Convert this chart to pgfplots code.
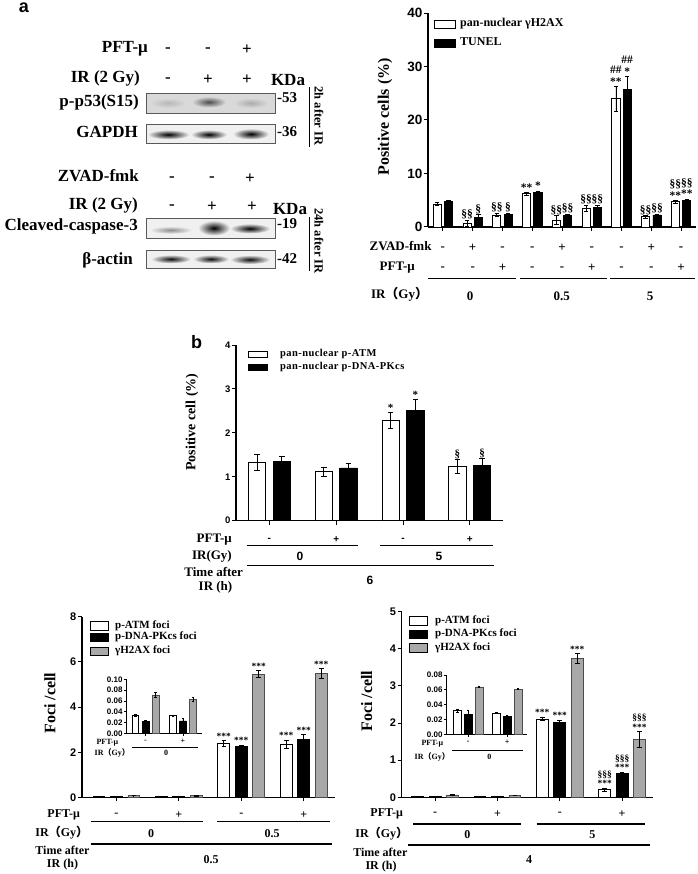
\documentclass[border=0pt]{standalone}
\usepackage{fontspec}
\setmainfont{Liberation Serif}
\newfontfamily\arial{Liberation Sans}
\newfontfamily\cjk{Noto Sans CJK SC}
\usepackage{pgfplots}
\usepackage{pgfplotstable}
\pgfplotsset{compat=1.18}
\newcommand{\sz}[1]{\fontsize{#1}{#1}\selectfont}
\newcommand{\IRGy}{IR{\cjk\bfseries （}Gy{\cjk\bfseries ）}}
\definecolor{gfill}{gray}{0.66}
\definecolor{gline}{gray}{0.3}

\pgfplotstableread{
x w we b be
0 4.3 0.3 4.7 0.3
1 0.7 0.5 1.8 0.5
2 2.25 0.3 2.4 0.2
3 6.2 0.3 6.4 0.3
4 1.3 0.8 2.1 0.3
5 3.5 0.5 3.7 0.3
6 24.0 2.3 25.7 2.4
7 1.9 0.2 2.25 0.15
8 4.7 0.3 4.95 0.3
}\dataA

\pgfplotstableread{
x a ae k ke
0 1.33 0.19 1.34 0.13
1 1.12 0.10 1.20 0.10
2 2.29 0.18 2.50 0.26
3 1.23 0.16 1.26 0.15
}\dataB

\pgfplotstableread{
x a ae k ke g ge
0 0.033 0.002 0.022 0.002 0.071 0.004
1 0.033 0.001 0.023 0.004 0.063 0.003
2 2.39 0.12 2.24 0.07 5.46 0.15
3 2.35 0.18 2.57 0.20 5.49 0.22
}\dataC

\pgfplotstableread{
x a ae k ke g ge
0 0.033 0.002 0.022 0.002 0.071 0.004
1 0.033 0.001 0.023 0.004 0.063 0.003
}\dataCi

\pgfplotstableread{
x a ae k ke g ge
0 0.032 0.002 0.027 0.005 0.064 0.001
1 0.029 0.001 0.024 0.001 0.061 0.001
2 2.11 0.05 2.02 0.06 3.74 0.13
3 0.20 0.05 0.65 0.03 1.56 0.22
}\dataD

\pgfplotstableread{
x a ae k ke g ge
0 0.032 0.002 0.027 0.005 0.064 0.001
1 0.029 0.001 0.024 0.001 0.061 0.001
}\dataDi

\pgfplotsset{
  base/.style={scale only axis, anchor=south west, axis x line*=bottom, axis y line*=left,
    axis line style={line width=1.1pt}, every tick/.style={black, line width=1pt},
    major tick length=4pt, tick align=outside, xticklabels={,,,,,,,,,,}, clip=false, ymin=0,
    scaled y ticks=false,
    /pgf/number format/assume math mode=true,
    yticklabel style={font=\arial\bfseries\sz{#1}, inner sep=1.5pt}},
  eb/.style={/pgfplots/error bars/y dir=both, /pgfplots/error bars/y explicit,
    /pgfplots/error bars/error bar style={line width=0.8pt, black},
    /pgfplots/error bars/error mark options={rotate=90, mark size=#1, line width=0.8pt, black}},
  wbar/.style={ybar, bar shift=0pt, draw=black, fill=white, line width=0.8pt},
  kbar/.style={ybar, bar shift=0pt, draw=black, fill=black, line width=0.8pt},
  gbar/.style={ybar, bar shift=0pt, draw=gline, fill=gfill, line width=0.8pt},
  inset/.style={major tick length=2.5pt, axis line style={line width=0.8pt},
    every tick/.style={black, line width=0.7pt},
    yticklabel style={/pgf/number format/fixed, /pgf/number format/fixed zerofill, /pgf/number format/precision=2}},
}
\tikzset{ann/.style={anchor=south, font=\bfseries\sz{#1}, inner sep=1pt, align=center}}

\begin{document}
\begin{tikzpicture}[x=1pt,y=1pt]
\useasboundingbox (0,0) rectangle (697,-874);

% ---------- panel letters
\node[font=\arial\bfseries\sz{18}, anchor=base, inner sep=0pt] at (24,-13) {a};
\node[font=\arial\bfseries\sz{18}, anchor=base, inner sep=0pt] at (196.7,-348) {b};

% ---------- western blots
\begin{scope}[every node/.style={font=\bfseries\sz{17}, inner sep=0pt}]
\node[anchor=mid east] at (148,-50) {PFT-μ};
\node at (168,-50) {-}; \node at (208,-50) {-}; \node at (247,-50) {+};
\node[anchor=mid east] at (140,-80) {IR (2 Gy)};
\node at (168,-80) {-}; \node at (208,-80) {+}; \node at (247,-80) {+};
\node at (288,-80) {KDa};
\node[anchor=mid east] at (139,-104) {p-p53(S15)};
\node[anchor=mid east] at (138,-135) {GAPDH};
\node[anchor=mid east] at (139,-179) {ZVAD-fmk};
\node at (172,-179) {-}; \node at (212,-179) {-}; \node at (250,-179) {+};
\node[anchor=mid east] at (138,-207) {IR (2 Gy)};
\node at (172,-207) {-}; \node at (212,-207) {+}; \node at (252,-207) {+};
\node at (290,-209) {KDa};
\node[anchor=mid east] at (138,-228) {Cleaved-caspase-3};
\node[anchor=mid east] at (133,-262) {β-actin};
\end{scope}
\begin{scope}[every node/.style={font=\bfseries\sz{15}, inner sep=0pt, anchor=mid west}]
\node at (277,-100) {-53};
\node at (277,-134) {-36};
\node at (277,-226) {-19};
\node at (277,-261) {-42};
\end{scope}
\draw[line width=0.9pt] (309.3,-87) -- (309.3,-147);
\draw[line width=0.9pt] (309.3,-216.7) -- (309.3,-271);
\node[rotate=-90, font=\bfseries\sz{12.5}, inner sep=0pt] at (319,-116) {2h after IR};
\node[rotate=-90, font=\bfseries\sz{12.5}, inner sep=0pt] at (319,-241) {24h after IR};

% blot 1
\draw[line width=0.8pt, black!65, fill=black!15] (146,-93.5) rectangle (275,-113.3);
\shade[inner color=black!28, outer color=black!15] (168,-103) ellipse (18 and 5);
\shade[inner color=black!70, outer color=black!15] (209,-102) ellipse (17 and 5.5);
\shade[inner color=black!33, outer color=black!15] (251,-103) ellipse (17 and 5);
% blot 2
\draw[line width=0.8pt, black!65, fill=black!6] (146,-124.3) rectangle (275,-143.3);
\shade[inner color=black, outer color=black!6] (168.5,-134.5) ellipse (21 and 4.8);
\shade[inner color=black, outer color=black!6] (209,-134.5) ellipse (18 and 4.8);
\shade[inner color=black, outer color=black!6] (251,-134) ellipse (18 and 5.5);
% blot 3
\draw[line width=0.8pt, black!65, fill=black!6] (146,-218.3) rectangle (275,-238.3);
\shade[inner color=black!45, outer color=black!6] (171,-230) ellipse (21 and 3.8);
\shade[inner color=black, outer color=black!6] (214,-228) ellipse (16 and 7.5);
\shade[inner color=black, outer color=black!6] (250,-228.5) ellipse (20 and 5);
% blot 4
\draw[line width=0.8pt, black!65, fill=black!6] (146,-250) rectangle (275,-268.3);
\shade[inner color=black!95, outer color=black!6] (171,-259) ellipse (20 and 4.3);
\shade[inner color=black!95, outer color=black!6] (211,-259) ellipse (18 and 4.3);
\shade[inner color=black!95, outer color=black!6] (250,-259.5) ellipse (20 and 4.5);

% ---------- panel a chart
\begin{axis}[base=13.5, at={(428pt,-227pt)}, width=268pt, height=214pt,
  xmin=-0.5, xmax=8.5, ymax=40, xtick={0,...,8}, ytick={0,10,20,30,40}]
\addplot[wbar, bar width=0.27, eb=2.2pt] table[x expr=\thisrow{x}-0.19,y=w,y error=we]{\dataA};
\addplot[kbar, bar width=0.27, eb=2.2pt] table[x expr=\thisrow{x}+0.19,y=b,y error=be]{\dataA};
\node[ann=11.5] at (axis cs:0.81,1.2) {§§};
\node[ann=11.5] at (axis cs:1.19,2.3) {§};
\node[ann=11.5] at (axis cs:1.81,2.55) {§§};
\node[ann=11.5] at (axis cs:2.19,2.6) {§};
\node[ann=11.5] at (axis cs:2.81,6.5) {**};
\node[ann=11.5] at (axis cs:3.19,6.7) {*};
\node[ann=11.5] at (axis cs:3.81,2.1) {§§};
\node[ann=11.5] at (axis cs:4.19,2.4) {§§};
\node[ann=11.5] at (axis cs:4.81,4.0) {§§};
\node[ann=11.5] at (axis cs:5.19,4.0) {§§};
\node[ann=11.5] at (axis cs:5.81,26.3) {\#\#\\**};
\node[ann=11.5] at (axis cs:6.19,28.1) {\#\#\\*};
\node[ann=11.5] at (axis cs:6.81,2.1) {§§};
\node[ann=11.5] at (axis cs:7.19,2.4) {§§};
\node[ann=11.5] at (axis cs:7.81,5.0) {§§\\**};
\node[ann=11.5] at (axis cs:8.19,5.25) {§§\\**};
\end{axis}
\node[rotate=90, font=\bfseries\sz{16}] at (385,-117) {Positive cells (\%)};
% legend a
\draw[line width=0.8pt, fill=white] (434,-20) rectangle (455,-28);
\draw[line width=0.8pt, fill=black] (434,-39.3) rectangle (455,-47.7);
\node[anchor=mid west, font=\bfseries\sz{12}, inner sep=0pt] at (460,-24) {pan-nuclear γH2AX};
\node[anchor=mid west, font=\bfseries\sz{12}, inner sep=0pt] at (460,-43.5) {TUNEL};
% rows under a
\begin{scope}[every node/.style={font=\bfseries\sz{13}, inner sep=0pt}]
\node[anchor=mid east] at (431.7,-248.3) {ZVAD-fmk};
\node[anchor=mid east] at (415,-268.3) {PFT-μ};
\foreach \i/\z/\p in {0/-/-,1/+/-,2/-/+,3/-/-,4/+/-,5/-/+,6/-/-,7/+/-,8/-/+}{
  \node at ({442.9+29.78*\i},-248.3) {\z};
  \node at ({442.9+29.78*\i},-268.3) {\p};
}
\node[anchor=mid east] at (428.3,-296.7) {\IRGy};
\node at (470,-296.7) {0};
\node at (561.7,-296.7) {0.5};
\node at (650,-296.7) {5};
\end{scope}
\draw[line width=1.2pt] (428.3,-278.3) -- (516,-278.3);
\draw[line width=1.2pt] (520,-278.3) -- (606.7,-278.3);
\draw[line width=1.2pt] (610,-278.3) -- (695,-278.3);

% ---------- panel b
\begin{axis}[base=9.5, at={(236pt,-520.7pt)}, width=267.2pt, height=175.7pt,
  xmin=-0.5, xmax=3.5, ymax=4, xtick={0,...,3}, ytick={0,...,4}]
\addplot[wbar, bar width=0.26, eb=2.8pt] table[x expr=\thisrow{x}-0.185,y=a,y error=ae]{\dataB};
\addplot[kbar, bar width=0.26, eb=2.8pt] table[x expr=\thisrow{x}+0.185,y=k,y error=ke]{\dataB};
\node[ann=11] at (axis cs:1.815,2.47) {*};
\node[ann=11] at (axis cs:2.185,2.76) {*};
\node[ann=11] at (axis cs:2.815,1.39) {§};
\node[ann=11] at (axis cs:3.185,1.41) {§};
\end{axis}
\node[rotate=90, font=\bfseries\sz{14}] at (192,-422) {Positive cell (\%)};
\draw[line width=0.8pt, fill=white] (248,-351) rectangle (267,-357.5);
\draw[line width=0.8pt, fill=black] (248,-364) rectangle (267,-370.7);
\node[anchor=mid west, font=\bfseries\sz{10.5}\addfontfeature{LetterSpace=4}, inner sep=0pt] at (280,-354.5) {pan-nuclear p-ATM};
\node[anchor=mid west, font=\bfseries\sz{10.5}\addfontfeature{LetterSpace=4}, inner sep=0pt] at (280,-367.5) {pan-nuclear p-DNA-PKcs};
\begin{scope}[every node/.style={font=\bfseries\sz{13}, inner sep=0pt}]
\node[anchor=mid east] at (232,-540) {PFT-μ};
\node[anchor=mid east] at (232,-556.7) {IR(Gy)};
\node at (213.7,-571.7) {Time after};
\node at (215.5,-587.3) {IR (h)};
\end{scope}
\begin{scope}[every node/.style={font=\arial\bfseries\sz{10}, inner sep=0pt}]
\foreach \i/\p in {0/-,1/+,2/-,3/+}{ \node at ({269.4+66.8*\i},-540) {\p}; }
\node[font=\arial\bfseries\sz{12}] at (300,-556.7) {0};
\node[font=\arial\bfseries\sz{12}] at (439,-556.7) {5};
\node[font=\arial\bfseries\sz{12}] at (370,-580) {6};
\end{scope}
\draw[line width=1.2pt] (246.7,-545.7) -- (358,-545.7);
\draw[line width=1.2pt] (380,-545.7) -- (493.3,-545.7);
\draw[line width=1.2pt] (246.7,-565.7) -- (494,-565.7);

% ---------- panel c
\begin{axis}[base=11, at={(82pt,-797.3pt)}, width=253pt, height=180.6pt,
  xmin=-0.55, xmax=3.5, ymax=8, xtick={0,...,3}, ytick={0,2,4,6,8}]
\addplot[wbar, bar width=0.19, eb=2.3pt] table[x expr=\thisrow{x}-0.28,y=a,y error=ae]{\dataC};
\addplot[kbar, bar width=0.19, eb=2.3pt] table[x=x,y=k,y error=ke]{\dataC};
\addplot[gbar, bar width=0.19, eb=2.3pt] table[x expr=\thisrow{x}+0.28,y=g,y error=ge]{\dataC};
\node[ann=9.5] at (axis cs:1.72,2.51) {***};
\node[ann=9.5] at (axis cs:2,2.31) {***};
\node[ann=9.5] at (axis cs:2.28,5.61) {***};
\node[ann=9.5] at (axis cs:2.72,2.53) {***};
\node[ann=9.5] at (axis cs:3,2.77) {***};
\node[ann=9.5] at (axis cs:3.28,5.71) {***};
\end{axis}
\begin{axis}[base=8, inset, at={(126.7pt,-733.3pt)}, width=75pt, height=54pt,
  xmin=-0.5, xmax=1.5, ymax=0.1, xtick={0,1}, ytick={0,0.02,0.04,0.06,0.08,0.1}]
\addplot[wbar, line width=0.6pt, bar width=0.18, eb=1.3pt] table[x expr=\thisrow{x}-0.27,y=a,y error=ae]{\dataCi};
\addplot[kbar, line width=0.6pt, bar width=0.18, eb=1.3pt] table[x=x,y=k,y error=ke]{\dataCi};
\addplot[gbar, line width=0.6pt, bar width=0.18, eb=1.3pt] table[x expr=\thisrow{x}+0.27,y=g,y error=ge]{\dataCi};
\end{axis}
\node[rotate=90, font=\bfseries\sz{16}] at (50,-703) {Foci /cell};
\foreach \yy/\cc in {-625.8/white,-637.6/black,-651.5/gfill}{
  \draw[line width=0.8pt, fill=\cc] (90.7,\yy+4.2) rectangle (108.3,\yy-4.2);
}
\begin{scope}[every node/.style={font=\bfseries\sz{11}, inner sep=0pt, anchor=mid west}]
\node at (115,-625.8) {p-ATM foci};
\node at (115,-637.6) {p-DNA-PKcs foci};
\node at (115,-651.5) {γH2AX foci};
\end{scope}
\begin{scope}[every node/.style={font=\bfseries\sz{8}, inner sep=0pt}]
\node[anchor=mid east] at (118.3,-741.7) {PFT-μ};
\node at (145.5,-741.7) {-};
\node at (183,-741.7) {+};
\node[anchor=mid east] at (130,-753.3) {\IRGy};
\node at (166,-753.3) {0};
\end{scope}
\draw[line width=0.8pt] (132,-747.3) -- (198,-747.3);
\begin{scope}[every node/.style={font=\bfseries\sz{12}, inner sep=0pt}]
\node[anchor=mid east] at (80,-815) {PFT-μ};
\foreach \i/\p in {0/-,1/+,2/-,3/+}{ \node at ({116.4+62.47*\i},-815) {\p}; }
\node[anchor=mid east] at (88.3,-834) {\IRGy};
\node at (151,-834) {0};
\node at (272,-834) {0.5};
\node at (62.5,-850.7) {Time after};
\node at (62.5,-865) {IR (h)};
\node at (211,-859.3) {0.5};
\end{scope}
\draw[line width=1.2pt] (90.7,-821.7) -- (203.3,-821.7);
\draw[line width=1.2pt] (217.3,-821.7) -- (330,-821.7);
\draw[line width=1.2pt] (90.7,-844) -- (331.7,-844);

% ---------- panel d
\begin{axis}[base=11, at={(401.7pt,-797.3pt)}, width=251.6pt, height=185.6pt,
  xmin=-0.535, xmax=3.5, ymax=5, xtick={0,...,3}, ytick={0,...,5}]
\addplot[wbar, bar width=0.19, eb=2.3pt] table[x expr=\thisrow{x}-0.28,y=a,y error=ae]{\dataD};
\addplot[kbar, bar width=0.19, eb=2.3pt] table[x=x,y=k,y error=ke]{\dataD};
\addplot[gbar, bar width=0.19, eb=2.3pt] table[x expr=\thisrow{x}+0.28,y=g,y error=ge]{\dataD};
\node[ann=9.5] at (axis cs:1.72,2.16) {***};
\node[ann=9.5] at (axis cs:2,2.08) {***};
\node[ann=9.5] at (axis cs:2.28,3.87) {***};
\node[ann=9.5] at (axis cs:2.72,0.25) {§§§\\***};
\node[ann=9.5] at (axis cs:3,0.68) {§§§\\***};
\node[ann=9.5] at (axis cs:3.28,1.78) {§§§\\***};
\end{axis}
\begin{axis}[base=8, inset, at={(446.7pt,-734.3pt)}, width=80pt, height=59.3pt,
  xmin=-0.55, xmax=1.5, ymax=0.08, xtick={0,1}, ytick={0,0.02,0.04,0.06,0.08}]
\addplot[wbar, line width=0.6pt, bar width=0.2, eb=1.3pt] table[x expr=\thisrow{x}-0.28,y=a,y error=ae]{\dataDi};
\addplot[kbar, line width=0.6pt, bar width=0.2, eb=1.3pt] table[x=x,y=k,y error=ke]{\dataDi};
\addplot[gbar, line width=0.6pt, bar width=0.2, eb=1.3pt] table[x expr=\thisrow{x}+0.28,y=g,y error=ge]{\dataDi};
\end{axis}
\node[rotate=90, font=\bfseries\sz{16}] at (366.7,-701) {Foci /cell};
\foreach \yy/\cc in {-620.8/white,-634.5/black,-647.8/gfill}{
  \draw[line width=0.8pt, fill=\cc] (409.3,\yy+4.3) rectangle (427.3,\yy-4.3);
}
\begin{scope}[every node/.style={font=\bfseries\sz{11}, inner sep=0pt, anchor=mid west}]
\node at (435,-620.8) {p-ATM foci};
\node at (435,-634.5) {p-DNA-PKcs foci};
\node at (435,-647.8) {γH2AX foci};
\end{scope}
\begin{scope}[every node/.style={font=\bfseries\sz{8}, inner sep=0pt}]
\node[anchor=mid east] at (443.3,-742.7) {PFT-μ};
\node at (468.2,-742.7) {-};
\node at (507.2,-742.7) {+};
\node[anchor=mid east] at (450,-756.7) {\IRGy};
\node at (489.3,-756.7) {0};
\end{scope}
\draw[line width=0.8pt] (451.7,-750) -- (522.7,-750);
\begin{scope}[every node/.style={font=\bfseries\sz{12}, inner sep=0pt}]
\node[anchor=mid east] at (403,-814.3) {PFT-μ};
\foreach \i/\p in {0/-,1/+,2/-,3/+}{ \node at ({435.1+62.35*\i},-814.3) {\p}; }
\node[anchor=mid east] at (408.3,-834.7) {\IRGy};
\node at (467.3,-834.7) {0};
\node at (592.3,-834.7) {5};
\node at (380.3,-852) {Time after};
\node at (381,-866.5) {IR (h)};
\node at (529,-860) {4};
\end{scope}
\draw[line width=1.2pt] (413.3,-824) -- (520.7,-824);
\draw[line width=1.2pt] (536.7,-824) -- (645,-824);
\draw[line width=1.2pt] (408,-845) -- (650,-845);
\end{tikzpicture}
\end{document}
